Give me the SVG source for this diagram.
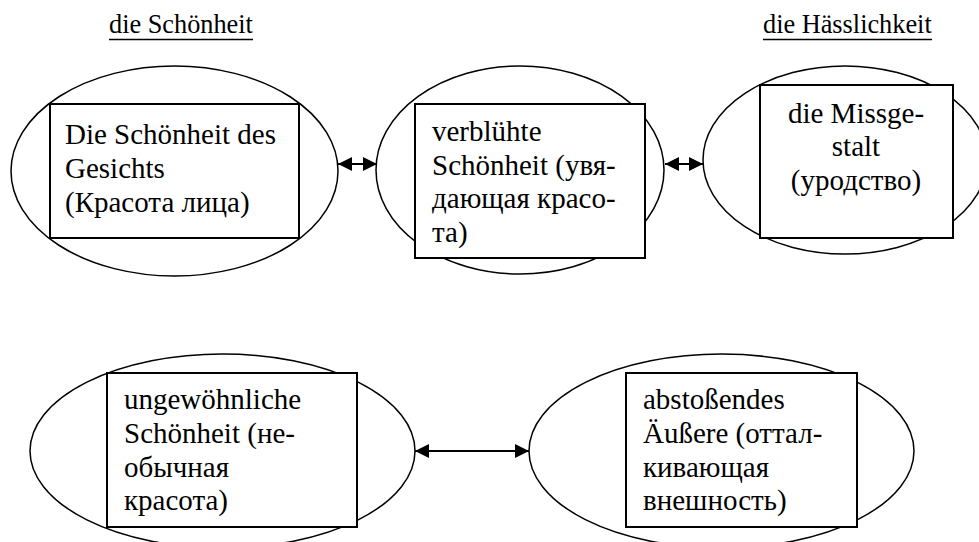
<svg xmlns="http://www.w3.org/2000/svg" width="979" height="542" viewBox="0 0 979 542">
  <style>
    .oval { fill: #ffffff; stroke: #000000; stroke-width: 1.5; }
    .box { fill: #ffffff; stroke: #000000; stroke-width: 2; }
    .txt { font-family: 'Liberation Serif', Tinos, 'Times New Roman', 'DejaVu Serif', serif; font-size: 29px; fill: #000000; }
    .head { font-family: 'Liberation Serif', Tinos, 'Times New Roman', 'DejaVu Serif', serif; font-size: 26.3px; fill: #000000; }
    .uline { stroke: #000000; stroke-width: 1.3; }
    .link { stroke: #000000; stroke-width: 2.2; fill: none; }
  </style>
  <defs>
    <marker id="tip" viewBox="0 0 14 14" refX="14" refY="7" markerUnits="userSpaceOnUse" markerWidth="14" markerHeight="14" orient="auto-start-reverse">
      <path d="M0,0 L14,7 L0,14 Z" fill="#000000"/>
    </marker>
  </defs>

  <!-- column headings -->
  <g id="heading-beauty">
    <text class="head" x="109" y="33">die Schönheit</text>
    <line class="uline" x1="109" y1="39.5" x2="253" y2="39.5"/>
  </g>
  <g id="heading-ugliness">
    <text class="head" x="763" y="33">die Hässlichkeit</text>
    <line class="uline" x1="763" y1="39.5" x2="932" y2="39.5"/>
  </g>

  <!-- top row -->
  <g id="node-face">
    <ellipse class="oval" cx="174.5" cy="171" rx="163.5" ry="105"/>
    <rect class="box" x="50" y="104" width="249" height="134"/>
    <text class="txt" x="65" y="144">Die Schönheit des</text>
    <text class="txt" x="65" y="178">Gesichts</text>
    <text class="txt" x="65" y="212">(Красота лица)</text>
  </g>
  <g id="node-faded">
    <ellipse class="oval" cx="520" cy="170" rx="144" ry="104"/>
    <rect class="box" x="415" y="104" width="230" height="154"/>
    <text class="txt" x="432" y="141">verblühte</text>
    <text class="txt" x="432" y="174.5">Schönheit (увя-</text>
    <text class="txt" x="432" y="208">дающая красо-</text>
    <text class="txt" x="432" y="241.5">та)</text>
  </g>
  <g id="node-deformity">
    <ellipse class="oval" cx="845" cy="160" rx="142" ry="94"/>
    <rect class="box" x="760" y="85" width="193" height="153"/>
    <text class="txt" x="856" y="122.5" text-anchor="middle">die Missge-</text>
    <text class="txt" x="856" y="156" text-anchor="middle">stalt</text>
    <text class="txt" x="856" y="189.5" text-anchor="middle">(уродство)</text>
  </g>

  <!-- bottom row -->
  <g id="node-unusual">
    <ellipse class="oval" cx="222.5" cy="451" rx="192.5" ry="97"/>
    <rect class="box" x="107" y="373" width="250" height="154"/>
    <text class="txt" x="124" y="409">ungewöhnliche</text>
    <text class="txt" x="124" y="443">Schönheit (не-</text>
    <text class="txt" x="124" y="476.5">обычная</text>
    <text class="txt" x="124" y="510">красота)</text>
  </g>
  <g id="node-repulsive">
    <ellipse class="oval" cx="721.5" cy="451" rx="192.5" ry="97"/>
    <rect class="box" x="626" y="373" width="231" height="154"/>
    <text class="txt" x="643" y="409">abstoßendes</text>
    <text class="txt" x="643" y="443">Äußere (оттал-</text>
    <text class="txt" x="643" y="476.5">кивающая</text>
    <text class="txt" x="643" y="510">внешность)</text>
  </g>

  <!-- connectors -->
  <g id="connectors">
    <line class="link" x1="338" y1="164" x2="377" y2="164" marker-start="url(#tip)" marker-end="url(#tip)"/>
    <line class="link" x1="665" y1="164" x2="703" y2="164" marker-start="url(#tip)" marker-end="url(#tip)"/>
    <line class="link" x1="415" y1="451" x2="529" y2="451" marker-start="url(#tip)" marker-end="url(#tip)"/>
  </g>
</svg>
